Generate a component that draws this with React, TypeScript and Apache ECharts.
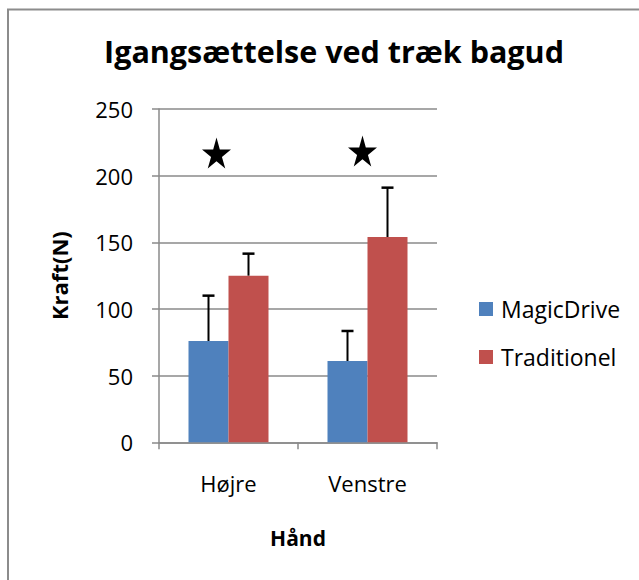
import React, { useEffect, useRef } from "react";
import * as echarts from "echarts";

const categories = ["Højre", "Venstre"];
const seriesNames = ["MagicDrive", "Traditionel"];
const magicDrive = [76, 61];
const traditionel = [125, 154];
const magicDriveUpper = [110, 83.5];
const traditionelUpper = [141.5, 191];
const starValues = [217, 218.5];
const yTicks = [0, 50, 100, 150, 200, 250];

const FONT = "'Open Sans', sans-serif";
const STAR =
  "path://M50,0 L61,35 L98,35 L68,57 L79,91 L50,70 L21,91 L32,57 L2,35 L39,35 Z";

export default function App() {
  const ref = useRef<HTMLDivElement>(null);
  useEffect(() => {
    document.body.style.margin = "0";
    const chart = echarts.init(ref.current!, undefined, { renderer: "svg" });
    const errData: number[][] = [];
    magicDrive.forEach((v, i) => errData.push([i, v, magicDriveUpper[i], -20]));
    traditionel.forEach((v, i) => errData.push([i, v, traditionelUpper[i], 20]));
    const axisGray = "#8a8a8a";
    chart.setOption({
      animation: false,
      backgroundColor: "#ffffff",
      title: {
        text: "Igangsættelse ved træk bagud",
        left: 329,
        top: 30,
        textAlign: "center",
        textStyle: { fontFamily: FONT, fontWeight: "bold", fontSize: 30.5, color: "#000" },
      },
      graphic: [
        {
          type: "rect",
          shape: { x: 8, y: 9.5, width: 700, height: 700 },
          style: { fill: "none", stroke: "#8c8c8c", lineWidth: 2 },
          silent: true,
        },
      ],
      legend: {
        orient: "vertical",
        left: 479,
        top: 297,
        padding: 0,
        itemWidth: 14,
        itemHeight: 14,
        itemGap: 24,
        icon: "rect",
        data: seriesNames,
        textStyle: { fontFamily: FONT, fontSize: 23, color: "#000", lineHeight: 24, padding: [0, 0, 0, 3] },
      },
      grid: { left: 159, right: 202, top: 109, bottom: 137.7 },
      xAxis: {
        type: "category",
        data: categories,
        name: "Hånd",
        nameLocation: "middle",
        nameGap: 85,
        nameTextStyle: { fontFamily: FONT, fontWeight: "bold", fontSize: 21, color: "#000" },
        axisLine: { lineStyle: { color: axisGray, width: 1.5 } },
        axisTick: { show: true, length: 7, alignWithLabel: false, lineStyle: { color: axisGray, width: 1.5 } },
        axisLabel: { fontFamily: FONT, fontSize: 22, color: "#000", margin: 30 },
      },
      yAxis: {
        type: "value",
        min: yTicks[0],
        max: yTicks[yTicks.length - 1],
        interval: 50,
        name: "Kraft(N)",
        nameLocation: "middle",
        nameGap: 89,
        nameTextStyle: { fontFamily: FONT, fontWeight: "bold", fontSize: 22, color: "#000" },
        axisLine: { show: true, lineStyle: { color: axisGray, width: 1.5 } },
        axisTick: { show: true, length: 7, lineStyle: { color: axisGray, width: 1.5 } },
        axisLabel: { fontFamily: FONT, fontSize: 22, color: "#000", margin: 26 },
        splitLine: { lineStyle: { color: axisGray, width: 1.5 } },
      },
      series: [
        {
          name: seriesNames[0],
          type: "bar",
          data: magicDrive,
          barWidth: 40,
          barGap: "0%",
          itemStyle: { color: "#4F81BD" },
        },
        {
          name: seriesNames[1],
          type: "bar",
          data: traditionel,
          barWidth: 40,
          barGap: "0%",
          itemStyle: { color: "#C0504D" },
        },
        {
          type: "custom",
          name: "err",
          data: errData,
          z: 5,
          renderItem: (params: any, api: any) => {
            const off = api.value(3);
            const base = api.coord([api.value(0), api.value(1)]);
            const top = api.coord([api.value(0), api.value(2)]);
            const x = base[0] + off;
            return {
              type: "group",
              children: [
                {
                  type: "line",
                  shape: { x1: x, y1: base[1], x2: x, y2: top[1] },
                  style: { stroke: "#000", lineWidth: 2 },
                },
                {
                  type: "line",
                  shape: { x1: x - 6, y1: top[1], x2: x + 6, y2: top[1] },
                  style: { stroke: "#000", lineWidth: 2.5 },
                },
              ],
            };
          },
        },
        {
          type: "scatter",
          name: "star",
          symbol: STAR,
          symbolSize: [29, 31],
          symbolKeepAspect: false,
          itemStyle: { color: "#000", opacity: 1 },
          data: [
            { value: [0, starValues[0]], symbolOffset: [-12, 0] },
            { value: [1, starValues[1]], symbolOffset: [-5, 0] },
          ],
          z: 6,
        },
      ],
    });
    return () => chart.dispose();
  }, []);
  return <div ref={ref} style={{ width: 639, height: 580 }} />;
}
